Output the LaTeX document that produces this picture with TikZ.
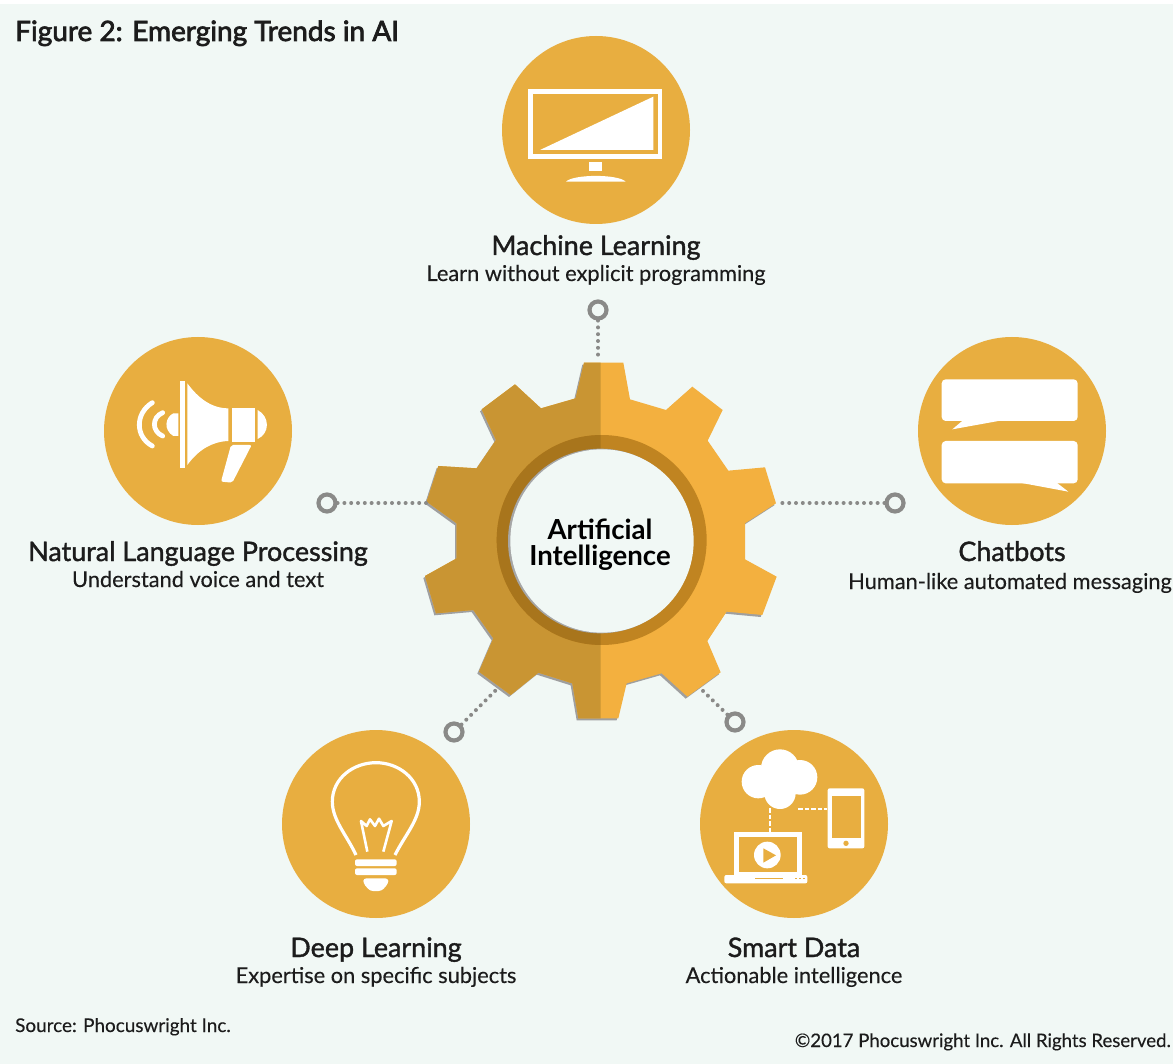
\documentclass[tikz,border=0pt]{standalone}
\usepackage{fontspec}
\setmainfont{Lato}
\newfontfamily\headfont[FakeBold=1.4]{Lato}
\newfontfamily\figfont[FakeBold=2.6]{Lato}
\newfontfamily\subfont[FakeBold=0.25]{Lato}
\definecolor{bgc}{HTML}{F1F8F5}
\definecolor{hubc}{HTML}{E8AE40}
\definecolor{gearl}{HTML}{C99533}
\definecolor{gearr}{HTML}{F3B03F}
\definecolor{ringl}{HTML}{A8751C}
\definecolor{ringr}{HTML}{C08421}
\definecolor{conn}{HTML}{8A8A88}
\definecolor{ink}{HTML}{1C1C1C}
\newcommand{\gearoutline}{(522,38)--(640,38)--(660,148)--(768,180)--(847,110)--(938,180)--(893,272)--(955,362)--(1065,352)--(1098,460)--(1005,520)--(1005,628)--(1100,680)--(1057,795)--(950,785)--(892,873)--(932,967)--(832,1040)--(755,970)--(650,1000)--(625,1105)--(505,1105)--(487,1000)--(385,968)--(302,1035)--(207,965)--(250,865)--(190,780)--(78,790)--(45,678)--(140,625)--(140,520)--(50,455)--(85,348)--(200,355)--(258,270)--(215,178)--(315,103)--(393,175)--(497,145)--cycle}
\tikzset{
  hub/.style={circle,fill=hubc,minimum size=188pt,inner sep=0pt},
  knob/.style={circle,draw=conn,line width=4.2pt,fill=bgc,minimum size=17pt,inner sep=0pt},
  link/.style={draw=conn,line width=4pt,line cap=round,dash pattern=on 0pt off 6.8pt},
  title/.style={font=\headfont\fontsize{26.9}{27}\selectfont,text=ink,anchor=base,inner sep=0pt},
  sub/.style={font=\subfont\fontsize{21.8}{22}\selectfont,text=ink,anchor=base,inner sep=0pt},
  icon/.style={x=0.33333pt,y=-0.33333pt},
}
\begin{document}
\begin{tikzpicture}[x=1pt,y=-1pt]
\useasboundingbox (0,0) rectangle (1173,1064);
\fill[bgc] (0,0) rectangle (1173,1064);
\fill[white] (0,0) rectangle (1173,4);

% gear
\begin{scope}[shift={(410,350)},icon]
  \fill[gray!75,shift={(-5,6)}] \gearoutline;
  \fill[gearr] \gearoutline;
  \begin{scope}
    \clip (0,0) rectangle (572,1140);
    \fill[gearl] \gearoutline;
  \end{scope}
  \fill[ringr] (575,570) circle (315);
  \begin{scope}
    \clip (0,0) rectangle (572,1140);
    \fill[ringl] (575,570) circle (315);
  \end{scope}
  \fill[gray!70] (571,573) circle (277);
  \fill[bgc] (576,573) circle (275);
\end{scope}
\coordinate (gn) at (598,360);
\coordinate (gw) at (428,503);
\coordinate (ge) at (778,503);
\coordinate (gsw) at (497,689);
\coordinate (gse) at (700,688);
\node[font=\bfseries\fontsize{27.6}{28}\selectfont,text=black,anchor=base,inner sep=0pt] (ai1) at (600,539) {Artificial};
\node[font=\bfseries\fontsize{27.6}{28}\selectfont,text=black,anchor=base,inner sep=0pt] (ai2) at (600,565) {Intelligence};

% hubs
\node[hub] (ml) at (596,130) {};
\node[hub] (nlp) at (198,431) {};
\node[hub] (cb) at (1012,431) {};
\node[hub] (dl) at (376,824) {};
\node[hub] (sd) at (794,824) {};

% knobs and links
\node[knob] (kml) at (598,310) {};
\node[knob] (knlp) at (327,503) {};
\node[knob] (kcb) at (895,503) {};
\node[knob] (kdl) at (454,732) {};
\node[knob] (ksd) at (735,722) {};
\draw[link] (kml) -- (gn);
\draw[link] (knlp) -- (gw);
\draw[link] (kcb) -- (ge);
\draw[link] (kdl) -- (gsw);
\draw[link] (ksd) -- (gse);

% monitor icon
\begin{scope}[shift={(495,60)},icon]
  \draw[white,line width=4.4pt] (107,94) rectangle (495,290);
  \fill[white] (135,270) -- (475,110) -- (475,270) -- cycle;
  \fill[white] (283,305) rectangle (320,333);
  \fill[white] (213,365) .. controls (235,342) and (370,342) .. (392,365) -- cycle;
\end{scope}

% speech bubbles icon
\begin{scope}[shift={(910,330)},icon]
  \fill[white,rounded corners=4pt] (95,148) rectangle (503,273);
  \fill[white] (160,270) -- (127,298) -- (265,273) -- cycle;
  \fill[white,rounded corners=4pt] (95,333) rectangle (503,460);
  \fill[white] (330,458) -- (475,485) -- (440,458) -- cycle;
\end{scope}

% megaphone icon
\begin{scope}[shift={(95,330)},icon]
  \fill[white] (255,153) rectangle (270,413);
  \fill[white] (277,160) .. controls (310,205) and (350,235) .. (400,235) -- (400,333) .. controls (350,335) and (310,360) .. (277,405) -- cycle;
  \fill[white] (410,233) rectangle (480,335);
  \fill[white] (488,240) .. controls (525,260) and (525,310) .. (488,327) -- cycle;
  \fill[white] (250,250) -- (250,318) -- (235,318) .. controls (205,300) and (210,262) .. (235,250) -- cycle;
  \draw[white,line width=4.8pt,line cap=round] (203,248) .. controls (170,262) and (170,304) .. (203,318);
  \draw[white,line width=4.8pt,line cap=round] (172,218) .. controls (120,250) and (120,320) .. (172,348);
  \fill[white,rounded corners=2pt] (408,345) -- (470,345) -- (412,458) -- (378,455) -- cycle;
\end{scope}

% bulb icon
\begin{scope}[shift={(275,740)},icon]
  \draw[white,line width=3.2pt,line join=round] (243,345) .. controls (215,285) and (172,240) .. (172,185) .. controls (172,115) and (235,68) .. (303,68) .. controls (370,68) and (433,115) .. (433,185) .. controls (433,240) and (390,285) .. (360,345);
  \draw[white,line width=2.6pt,line join=round] (277,335) -- (258,243) -- (275,258) -- (285,238) -- (300,258) -- (312,236) -- (325,258) -- (350,243) -- (325,335);
  \fill[white,rounded corners=2pt] (240,358) rectangle (365,378);
  \fill[white,rounded corners=2pt] (240,385) rectangle (365,405);
  \fill[white,rounded corners=3pt] (265,415) -- (340,415) -- (340,430) -- (320,453) -- (285,453) -- (265,430) -- cycle;
\end{scope}

% cloud and devices icon
\begin{scope}[shift={(690,740)},icon]
  \fill[white] (205,125) circle (50);
  \fill[white] (270,85) circle (57);
  \fill[white] (330,112) circle (52);
  \fill[white] (270,160) circle (47);
  \draw[white,line width=1.2pt,dash pattern=on 4.5pt off 2pt] (240,205) -- (240,275);
  \draw[white,line width=1.2pt,dash pattern=on 4.5pt off 2pt] (325,207) -- (410,207);
  \fill[white,rounded corners=2pt] (413,145) rectangle (523,325);
  \fill[hubc] (425,167) rectangle (512,295);
  \fill[hubc] (468,310) circle (8);
  \fill[white] (132,275) rectangle (335,405);
  \fill[hubc] (148,290) rectangle (320,395);
  \fill[white,rounded corners=2pt] (103,405) rectangle (352,430);
  \fill[hubc] (195,413) rectangle (280,418);
  \fill[hubc] (315,413) rectangle (322,418);
  \fill[hubc] (327,413) rectangle (334,418);
  \fill[hubc] (339,413) rectangle (346,418);
  \fill[white] (232,345) circle (40);
  \fill[hubc] (220,325) -- (258,346) -- (220,368) -- cycle;
\end{scope}

% labels
\node[font=\figfont\fontsize{28}{28}\selectfont,text=ink,anchor=base west,inner sep=0pt] (fig) at (15,41) {Figure 2: Emerging Trends in AI};
\node[title] (tml) at (596,255) {Machine Learning};
\node[sub] (sml) at (596,281) {Learn without explicit programming};
\node[title] (tnlp) at (198,561) {Natural Language Processing};
\node[sub] (snlp) at (198,587) {Understand voice and text};
\node[title] (tcb) at (1012,561) {Chatbots};
\node[sub,anchor=base east] (scb) at (1172,589) {Human-like automated messaging};
\node[title] (tdl) at (376,957) {Deep Learning};
\node[sub] (sdl) at (376,983) {Expertise on specific subjects};
\node[title] (tsd) at (794,957) {Smart Data};
\node[sub] (ssd) at (794,983) {Actionable intelligence};
\node[font=\subfont\fontsize{18.9}{19}\selectfont,text=ink,anchor=base west,inner sep=0pt] (src) at (15,1032) {Source: Phocuswright Inc.};
\node[font=\subfont\fontsize{18.6}{19}\selectfont,text=ink,anchor=base east,inner sep=0pt] (copy) at (1171,1047) {©2017 Phocuswright Inc. All Rights Reserved.};
\end{tikzpicture}
\end{document}
